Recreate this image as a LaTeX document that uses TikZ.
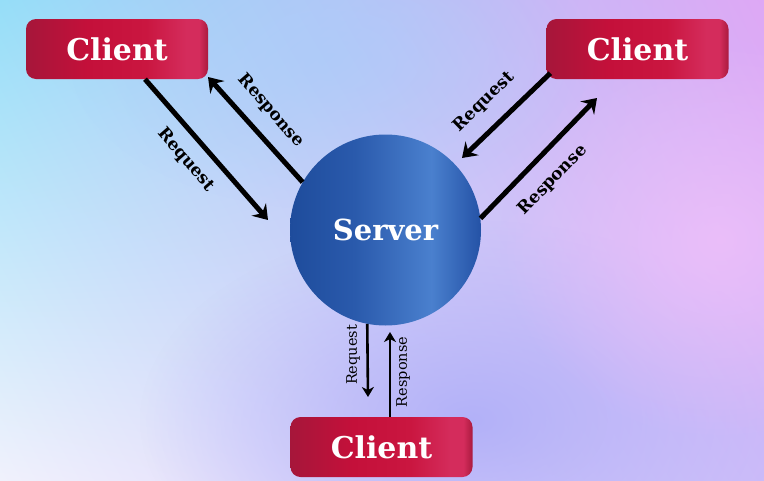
\documentclass[tikz,border=0pt]{standalone}
\usepackage{fontspec}
\setmainfont{DejaVu Serif}
\usetikzlibrary{arrows.meta,calc,fadings,shadings}
\definecolor{bgTL}{RGB}{150,222,248}
\definecolor{bgTR}{RGB}{222,168,245}
\definecolor{bgBL}{RGB}{240,241,252}
\definecolor{bgBR}{RGB}{205,188,250}
\definecolor{blobBlue}{RGB}{172,172,248}
\definecolor{blobPink}{RGB}{240,192,250}
\definecolor{blobSky}{RGB}{165,205,250}
\definecolor{clA}{RGB}{166,22,58}
\definecolor{clB}{RGB}{196,16,58}
\definecolor{clC}{RGB}{202,22,64}
\definecolor{clD}{RGB}{212,44,92}
\definecolor{clE}{RGB}{170,26,62}
\definecolor{svA}{RGB}{30,76,156}
\definecolor{svB}{RGB}{42,90,172}
\definecolor{svC}{RGB}{74,128,206}
\definecolor{svD}{RGB}{36,82,166}
\pgfdeclarehorizontalshading{clientsh}{100bp}{color(0bp)=(clA); color(25bp)=(clA); color(42bp)=(clB); color(58bp)=(clC); color(69bp)=(clD); color(72.5bp)=(clD); color(75bp)=(clE); color(100bp)=(clE)}
\pgfdeclarehorizontalshading{serversh}{100bp}{color(0bp)=(svA); color(25bp)=(svA); color(42bp)=(svB); color(62bp)=(svC); color(75bp)=(svD); color(100bp)=(svD)}
\tikzfading[name=softglow, inner color=transparent!0, outer color=transparent!100]
\tikzset{
  clientbox/.style={rounded corners=10pt, shading=clientsh, minimum width=182pt, minimum height=60pt, inner sep=0pt, text=white, font=\bfseries\fontsize{30}{32}\selectfont},
  serverball/.style={circle, shading=serversh, minimum size=191pt, inner sep=0pt, text=white, font=\bfseries\fontsize{29}{31}\selectfont},
  bigarrow/.style={line width=5pt, -{Stealth[length=14pt,width=19pt,inset=5pt]}},
  smallarrow/.style={line width=2.6pt, -{Stealth[length=10pt,width=12pt,inset=3pt]}},
  biglabel/.style={font=\bfseries\fontsize{17}{19}\selectfont, inner sep=0pt},
  smalllabel/.style={font=\fontsize{14.5}{16}\selectfont, inner sep=0pt}
}
\begin{document}
\begin{tikzpicture}[x=1pt,y=-1pt]
\useasboundingbox (0,0) rectangle (764,480);
% background
\shade[upper left=bgTL, upper right=bgTR, lower left=bgBL, lower right=bgBR] (0,0) rectangle (764,480);
\fill[blobBlue, path fading=softglow, opacity=0.85] (470,420) ellipse [x radius=330, y radius=200];
\fill[blobPink, path fading=softglow, opacity=0.8] (720,240) ellipse [x radius=220, y radius=200];
\fill[blobSky, path fading=softglow, opacity=0.5] (330,60) ellipse [x radius=260, y radius=150];
% nodes
\node[clientbox] (c1) at (117,49) {Client};
\node[clientbox] (c2) at (637.5,49) {Client};
\node[clientbox] (c3) at (381.5,447) {Client};
\node[serverball] (srv) at (385.5,230) {Server};
% free ends
\coordinate (tlReqEnd) at (268,220);
\coordinate (tlResEnd) at (208,77);
\coordinate (trReqEnd) at (462,158);
\coordinate (trResEnd) at (597,98);
\coordinate (bReqEnd) at (368,397);
\coordinate (bResEnd) at (390,332);
% connectors
\draw[bigarrow] ($(c1.south)+(28,0)$) -- (tlReqEnd);
\draw[bigarrow] (srv.150.6) -- (tlResEnd);
\draw[bigarrow] ($(c2.south west)+(4,-6)$) -- (trReqEnd);
\draw[bigarrow] (srv.7.2) -- (trResEnd);
\draw[smallarrow] (srv.259) -- (bReqEnd);
\draw[smallarrow] ($(c3.north)+(8.5,0)$) -- (bResEnd);
% labels
\node[biglabel, rotate=-49] (l1) at (186,160) {Request};
\node[biglabel, rotate=-49] (l2) at (271,111) {Response};
\node[biglabel, rotate=44] (l3) at (484,102) {Request};
\node[biglabel, rotate=46] (l4) at (553,180) {Response};
\node[smalllabel, rotate=90] (l5) at (353,355) {Request};
\node[smalllabel, rotate=90] (l6) at (403,372) {Response};
\end{tikzpicture}
\end{document}
